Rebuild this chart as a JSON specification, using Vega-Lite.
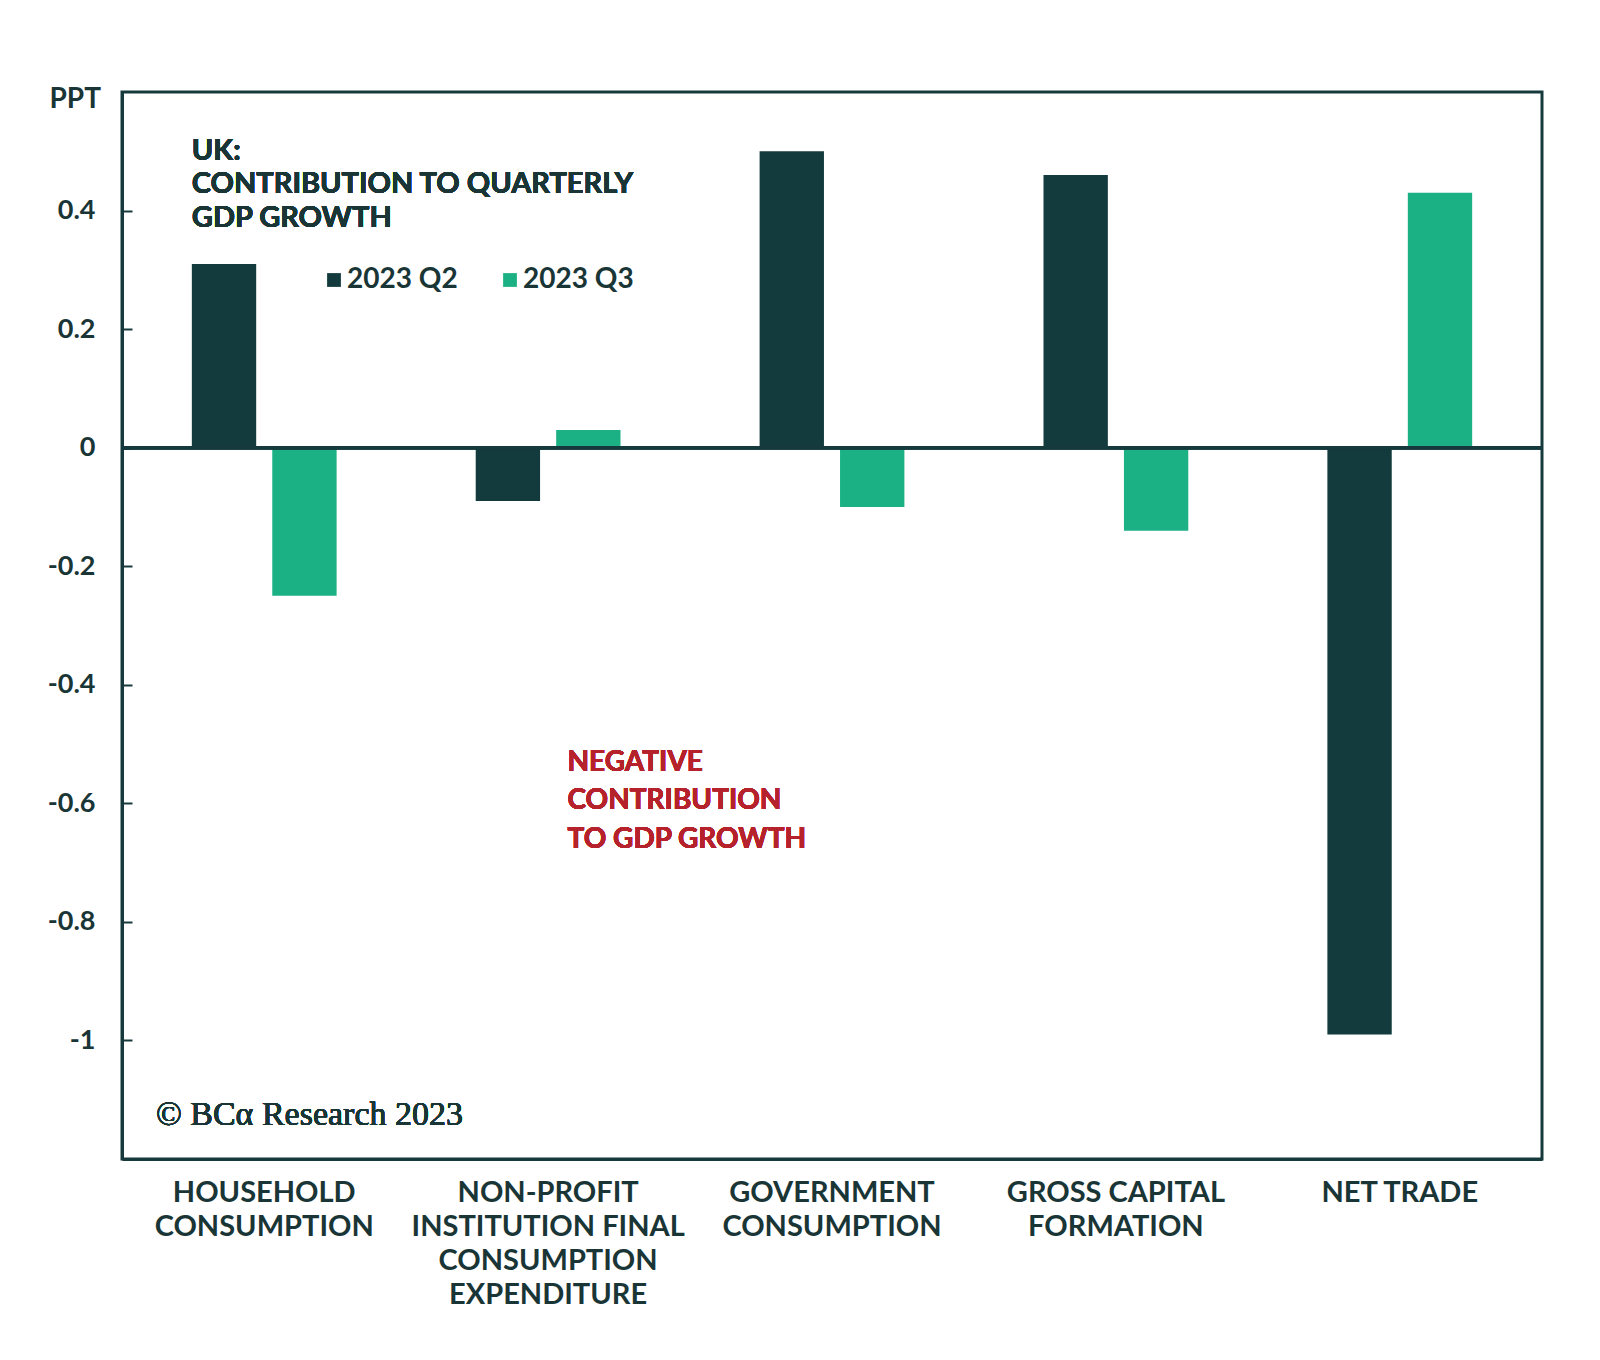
{
  "$schema": "https://vega.github.io/schema/vega-lite/v6.json",
  "width": 1420,
  "height": 1067,
  "autosize": {"type": "none"},
  "padding": {"left": 122, "top": 92, "right": 58, "bottom": 201},
  "background": "white",
  "config": {
    "view": {"stroke": "#163a3c", "strokeWidth": 3},
    "font": "Lato",
    "axis": {"grid": false, "domainColor": "#163a3c", "domainWidth": 3, "labelColor": "#1a3536", "labelFont": "Lato", "labelFontWeight": "bold", "titleColor": "#1a3536", "titleFont": "Lato"}
  },
  "data": {
    "values": [
      {"component": "HOUSEHOLD CONSUMPTION", "series": "2023 Q2", "value": 0.31},
      {"component": "HOUSEHOLD CONSUMPTION", "series": "2023 Q3", "value": -0.25},
      {"component": "NON-PROFIT INSTITUTION FINAL CONSUMPTION EXPENDITURE", "series": "2023 Q2", "value": -0.09},
      {"component": "NON-PROFIT INSTITUTION FINAL CONSUMPTION EXPENDITURE", "series": "2023 Q3", "value": 0.03},
      {"component": "GOVERNMENT CONSUMPTION", "series": "2023 Q2", "value": 0.5},
      {"component": "GOVERNMENT CONSUMPTION", "series": "2023 Q3", "value": -0.1},
      {"component": "GROSS CAPITAL FORMATION", "series": "2023 Q2", "value": 0.46},
      {"component": "GROSS CAPITAL FORMATION", "series": "2023 Q3", "value": -0.14},
      {"component": "NET TRADE", "series": "2023 Q2", "value": -0.99},
      {"component": "NET TRADE", "series": "2023 Q3", "value": 0.43}
    ]
  },
  "layer": [
    {
      "mark": {"type": "bar"},
      "encoding": {
        "x": {
          "field": "component",
          "type": "nominal",
          "scale": {
            "domain": ["HOUSEHOLD CONSUMPTION", "NON-PROFIT INSTITUTION FINAL CONSUMPTION EXPENDITURE", "GOVERNMENT CONSUMPTION", "GROSS CAPITAL FORMATION", "NET TRADE"],
            "paddingInner": 0.49,
            "paddingOuter": 0.246
          },
          "axis": {
            "title": null,
            "ticks": false,
            "labelAngle": 0,
            "labelPadding": 19,
            "labelFontSize": 29,
            "labelLineHeight": 34,
            "labelBaseline": "top",
            "labelLimit": 0,
            "labelExpr": "datum.label == 'HOUSEHOLD CONSUMPTION' ? ['HOUSEHOLD','CONSUMPTION'] : datum.label == 'NON-PROFIT INSTITUTION FINAL CONSUMPTION EXPENDITURE' ? ['NON-PROFIT','INSTITUTION FINAL','CONSUMPTION','EXPENDITURE'] : datum.label == 'GOVERNMENT CONSUMPTION' ? ['GOVERNMENT','CONSUMPTION'] : datum.label == 'GROSS CAPITAL FORMATION' ? ['GROSS CAPITAL','FORMATION'] : datum.label"
          }
        },
        "xOffset": {"field": "series", "type": "nominal", "scale": {"paddingInner": 0.2}},
        "y": {
          "field": "value",
          "type": "quantitative",
          "scale": {"domain": [-1.2, 0.6], "nice": false, "zero": false},
          "axis": {
            "values": [0.4, 0.2, 0, -0.2, -0.4, -0.6, -0.8, -1],
            "labelExpr": "'' + datum.value",
            "tickSize": -10,
            "tickColor": "#163a3c",
            "tickWidth": 2,
            "labelPadding": 37,
            "labelFontSize": 27,
            "title": "PPT",
            "titleAngle": 0,
            "titleAlign": "left",
            "titleBaseline": "middle",
            "titleX": -73,
            "titleY": 7,
            "titleFontSize": 28,
            "titleFontWeight": "bold"
          }
        },
        "color": {
          "field": "series",
          "type": "nominal",
          "scale": {"domain": ["2023 Q2", "2023 Q3"], "range": ["#133a3c", "#1bb184"]},
          "legend": {
            "title": null,
            "orient": "none",
            "legendX": 198,
            "legendY": 174,
            "direction": "horizontal",
            "symbolType": "square",
            "symbolSize": 190,
            "symbolStrokeWidth": 0,
            "labelFontSize": 28,
            "labelFont": "Lato",
            "labelFontWeight": "bold",
            "labelColor": "#1a3536",
            "labelOffset": -1,
            "columnPadding": 38
          }
        }
      }
    },
    {
      "mark": {"type": "rule", "color": "#163a3c", "strokeWidth": 3},
      "encoding": {"y": {"datum": 0}}
    },
    {
      "mark": {"type": "text", "text": ["UK:", "CONTRIBUTION TO QUARTERLY", "GDP GROWTH"], "align": "left", "baseline": "middle", "fontSize": 29, "fontWeight": "bold", "lineHeight": 33.2, "color": "#1a3536", "font": "Lato"},
      "encoding": {
        "x": {"datum": "HOUSEHOLD CONSUMPTION", "bandPosition": 0},
        "y": {"datum": 0.5}
      }
    },
    {
      "mark": {"type": "text", "text": ["NEGATIVE", "CONTRIBUTION", "TO GDP GROWTH"], "align": "left", "baseline": "middle", "fontSize": 28, "fontWeight": "bold", "lineHeight": 38.3, "color": "#b5222b", "font": "Lato"},
      "encoding": {
        "x": {"datum": "NON-PROFIT INSTITUTION FINAL CONSUMPTION EXPENDITURE", "bandPosition": 0.634},
        "y": {"datum": -0.532}
      }
    },
    {
      "mark": {"type": "text", "text": "© BCα Research 2023", "align": "left", "baseline": "middle", "fontSize": 34, "color": "#1a3536", "font": "Liberation Serif"},
      "encoding": {
        "x": {"datum": "HOUSEHOLD CONSUMPTION", "bandPosition": -0.248},
        "y": {"datum": -1.126}
      }
    }
  ]
}
